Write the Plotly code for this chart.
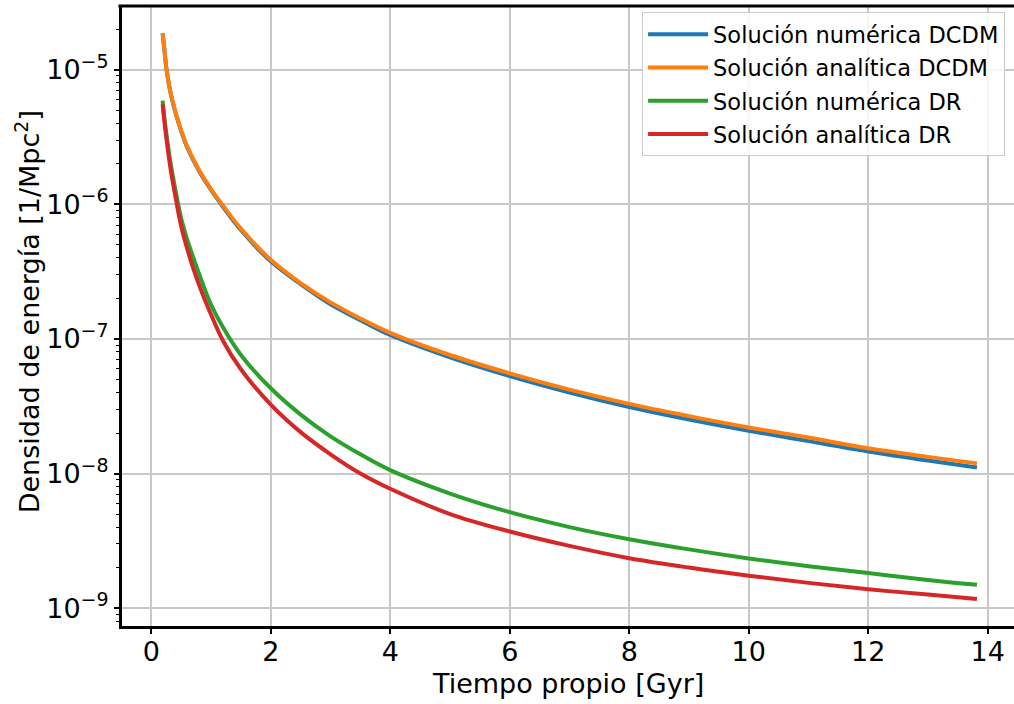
import plotly.graph_objects as go

# ---------------- data ----------------
t_dcdm = [0.19, 0.22, 0.25, 0.3, 0.35, 0.42, 0.5, 0.6, 0.8, 1.0, 1.2, 1.5, 2.0, 2.5,
          3.0, 3.5, 4.0, 5.0, 6.0, 7.0, 8.0, 9.0, 10.0, 11.0, 12.0, 13.0, 13.82]
rho_dcdm_num = [1.87e-5, 1.40e-5, 1.05e-5, 7.55e-6, 5.95e-6, 4.55e-6, 3.5e-6, 2.66e-6,
                1.77e-6, 1.28e-6, 9.6e-7, 6.45e-7, 3.77e-7, 2.55e-7, 1.81e-7, 1.38e-7,
                1.07e-7, 7.3e-8, 5.3e-8, 4.0e-8, 3.12e-8, 2.52e-8, 2.08e-8, 1.74e-8,
                1.46e-8, 1.25e-8, 1.11e-8]
rho_dcdm_ana = [1.87e-5, 1.40e-5, 1.05e-5, 7.6e-6, 6.0e-6, 4.6e-6, 3.55e-6, 2.7e-6,
                1.8e-6, 1.3e-6, 9.8e-7, 6.6e-7, 3.87e-7, 2.6e-7, 1.87e-7, 1.42e-7,
                1.11e-7, 7.6e-8, 5.55e-8, 4.2e-8, 3.29e-8, 2.67e-8, 2.2e-8, 1.85e-8,
                1.54e-8, 1.33e-8, 1.19e-8]

t_dr = [0.19, 0.22, 0.25, 0.3, 0.35, 0.4, 0.5, 0.6, 0.7, 0.85, 1.0, 1.2, 1.5, 2.0,
        2.5, 3.0, 3.5, 4.0, 5.0, 6.0, 7.0, 8.0, 9.0, 10.0, 11.0, 12.0, 13.0, 13.82]
rho_dr_num = [5.9e-6, 4.38e-6, 3.42e-6, 2.36e-6, 1.72e-6, 1.31e-6, 7.9e-7, 5.5e-7,
              4.07e-7, 2.65e-7, 1.8e-7, 1.22e-7, 7.6e-8, 4.3e-8, 2.74e-8, 1.89e-8,
              1.39e-8, 1.06e-8, 7.1e-9, 5.16e-9, 4.0e-9, 3.25e-9, 2.73e-9, 2.34e-9,
              2.05e-9, 1.82e-9, 1.62e-9, 1.49e-9]
rho_dr_ana = [5.55e-6, 4.1e-6, 3.16e-6, 2.15e-6, 1.55e-6, 1.17e-6, 6.9e-7, 4.7e-7,
              3.37e-7, 2.2e-7, 1.52e-7, 9.7e-8, 5.95e-8, 3.25e-8, 2.03e-8, 1.39e-8,
              1.0e-8, 7.7e-9, 5.0e-9, 3.71e-9, 2.9e-9, 2.35e-9, 2.0e-9, 1.74e-9,
              1.54e-9, 1.38e-9, 1.26e-9, 1.17e-9]

series_names = ["Solución numérica DCDM", "Solución analítica DCDM",
                "Solución numérica DR", "Solución analítica DR"]

x_ticks = [0, 2, 4, 6, 8, 10, 12, 14]
y_ticks = [1e-9, 1e-8, 1e-7, 1e-6, 1e-5]
y_exps = ["\u22129", "\u22128", "\u22127", "\u22126", "\u22125"]
y_minor = [m * 10.0 ** e for e in range(-10, -4) for m in range(2, 10)]

x_title = "Tiempo propio [Gyr]"
y_title = "Densidad de energía [1/Mpc<sup>2</sup>]"

# ---------------- figure ----------------
colors = ["#1f77b4", "#ff7f0e", "#2ca02c", "#d62728"]
xs = [t_dcdm, t_dcdm, t_dr, t_dr]
ys = [rho_dcdm_num, rho_dcdm_ana, rho_dr_num, rho_dr_ana]

FONT = "DejaVu Sans"
fig = go.Figure()
for i in range(4):
    fig.add_trace(go.Scatter(
        x=xs[i], y=ys[i], mode="lines", name=series_names[i],
        line=dict(color=colors[i], width=4, shape="spline", smoothing=1.0),
        legendgroup=f"g{i}",
    ))

y_ticktext = [f"10<sup><span style='font-size:19px'>{e}</span></sup>" for e in y_exps]

fig.update_layout(
    width=1014, height=704,
    margin=dict(l=122, r=0, t=6, b=78, autoexpand=False),
    paper_bgcolor="white", plot_bgcolor="white",
    font=dict(family=FONT, size=27, color="black"),
    showlegend=True,
    legend=dict(
        x=0.99, y=0.99, xanchor="right", yanchor="top",
        bgcolor="rgba(255,255,255,0.85)", bordercolor="#cccccc", borderwidth=1,
        font=dict(family=FONT, size=22.5, color="black"),
        tracegroupgap=1, itemwidth=60,
    ),
    shapes=[dict(type="line", xref="paper", yref="paper", x0=-0.004, x1=1,
                 y0=1, y1=1, line=dict(color="black", width=3))],
    annotations=[
        dict(text=x_title, xref="paper", yref="paper", x=0.5, y=-0.0935,
             xanchor="center", yanchor="middle", showarrow=False,
             font=dict(family=FONT, size=27, color="black")),
        dict(text=y_title, xref="paper", yref="paper", x=-0.1065, y=0.506,
             xanchor="center", yanchor="middle", textangle=-90, showarrow=False,
             font=dict(family=FONT, size=27, color="black")),
    ],
)

fig.update_xaxes(
    range=[-0.49, 14.44], automargin=False,
    tickvals=x_ticks, ticktext=[str(v) for v in x_ticks],
    ticks="outside", ticklen=5, tickwidth=1.5, tickcolor="black",
    ticklabelstandoff=-5,
    showline=True, linecolor="black", linewidth=3,
    showgrid=True, gridcolor="#c8c8c8", gridwidth=1.5,
    zeroline=False,
    tickfont=dict(family=FONT, size=27),
)
fig.update_yaxes(
    type="log", range=[-9.133, -4.526], automargin=False,
    tickvals=y_ticks, ticktext=y_ticktext,
    ticks="outside", ticklen=5, tickwidth=1.5, tickcolor="black",
    showline=True, linecolor="black", linewidth=3,
    showgrid=True, gridcolor="#c8c8c8", gridwidth=1.5,
    zeroline=False,
    minor=dict(tickvals=y_minor, ticks="outside", ticklen=3, tickwidth=1,
               tickcolor="black", showgrid=False),
    tickfont=dict(family=FONT, size=27),
)

fig.write_html(
    "out.html",
    config=dict(displayModeBar=False),
    post_script="document.body.style.margin='0';document.body.style.padding='0';"
                "document.body.style.overflow='hidden';",
)
